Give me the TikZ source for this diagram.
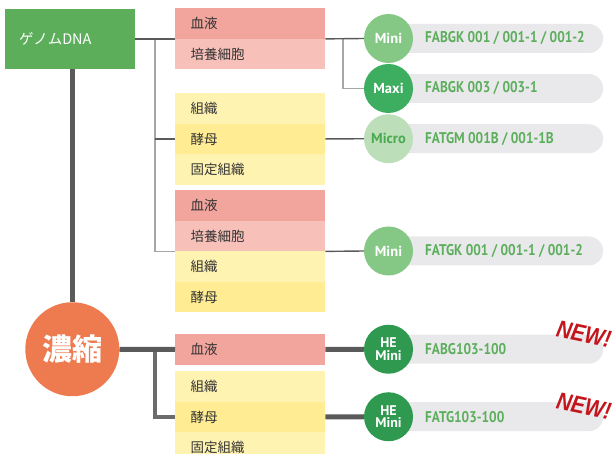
\documentclass[tikz,border=0pt]{standalone}
\usepackage{fontspec}
\setmainfont{PT Sans}
\newfontfamily\cjk{Noto Sans CJK JP}
\newfontfamily\pillfont[FakeStretch=0.86]{PT Sans}
\newfontfamily\tagfont[FakeStretch=0.86]{Liberation Sans}
\definecolor{dnagreen}{HTML}{5DAE5B}
\definecolor{minig}{HTML}{85C785}
\definecolor{maxig}{HTML}{3DAE5F}
\definecolor{microg}{HTML}{BCDFBA}
\definecolor{microt}{HTML}{4AAA50}
\definecolor{heg}{HTML}{2F9950}
\definecolor{orng}{HTML}{EE7A50}
\definecolor{rA}{HTML}{F2A59D}
\definecolor{rB}{HTML}{F7C0B9}
\definecolor{yA}{HTML}{FFF3B2}
\definecolor{yB}{HTML}{FFEC93}
\definecolor{pillg}{HTML}{E9E9EB}
\definecolor{pillt}{HTML}{5CAE5C}
\definecolor{newred}{HTML}{C3161C}
\definecolor{ldark}{HTML}{5A5A5A}
\definecolor{llight}{HTML}{A6A6A6}
\definecolor{txt}{HTML}{333333}
\begin{document}
\begin{tikzpicture}[x=1pt,y=-1pt,
  cell/.style={anchor=north west, minimum width=150pt, minimum height=30.5pt, text width=119pt, inner xsep=15.5pt, inner ysep=0pt, align=left, text=txt, font=\cjk\fontsize{13.5}{16}\selectfont},
  pillbox/.style={anchor=west, fill=pillg, rounded corners=14.5pt, minimum width=215pt, minimum height=29pt, inner sep=0pt},
  ptext/.style={anchor=west, inner sep=0pt, text=pillt, font=\pillfont\bfseries\fontsize{15.5}{18}\selectfont},
  kit/.style={circle, minimum size=49pt, inner sep=0pt, align=center, text=white, font=\bfseries\fontsize{14.5}{13}\selectfont},
  thinline/.style={draw=ldark, line width=1.4pt},
  lightline/.style={draw=llight, line width=1.4pt},
  thickline/.style={draw=ldark, line width=5pt},
  thickv/.style={draw=ldark!90!white, line width=4.5pt},
  newtag/.style={text=newred, inner sep=0pt, font=\tagfont\bfseries\itshape\fontsize{24}{26}\selectfont}
]
\clip (0,0) rectangle (614,454);
% genome DNA box
\node[anchor=north west, fill=dnagreen, minimum width=130pt, minimum height=60pt, text width=102pt, inner xsep=14pt, inner ysep=0pt, align=left, text=white, font=\cjk\fontsize{14.5}{16}\selectfont] (dna) at (5,9) {ゲノムDNA};
% concentrate circle
\node[circle, fill=orng, minimum size=94pt, inner sep=0pt, text=white, font=\cjk\bfseries\fontsize{30}{32}\selectfont] (conc) at (72.3,349.25) {濃縮};
% sample boxes
\node[cell, fill=rA] (a1) at (175,8) {血液};
\node[cell, fill=rB] (a2) at (175,38.5) {培養細胞};
\node[cell, fill=yA] (b1) at (175,93) {組織};
\node[cell, fill=yB] (b2) at (175,123.5) {酵母};
\node[cell, fill=yA] (b3) at (175,154) {固定組織};
\node[cell, fill=rA] (c1) at (175,190) {血液};
\node[cell, fill=rB] (c2) at (175,220.5) {培養細胞};
\node[cell, fill=yA] (c3) at (175,251) {組織};
\node[cell, fill=yB] (c4) at (175,281.5) {酵母};
\node[cell, fill=rA] (d1) at (175,334) {血液};
\node[cell, fill=yA] (d2) at (175,371) {組織};
\node[cell, fill=yB] (d3) at (175,401.5) {酵母};
\node[cell, fill=yA] (d4) at (175,432) {固定組織};
% pills
\node[pillbox] (p1) at (388,38.5) {};
\node[pillbox] (p2) at (388,88.5) {};
\node[pillbox] (p3) at (388,138.75) {};
\node[pillbox] (p4) at (388,251) {};
\node[pillbox] (p5) at (388,349.25) {};
\node[pillbox] (p6) at (388,416.75) {};
\node[ptext] (t1) at (425,38.5) {FABGK 001 / 001-1 / 001-2};
\node[ptext] (t2) at (425,88.5) {FABGK 003 / 003-1};
\node[ptext] (t3) at (425,138.75) {FATGM 001B / 001-1B};
\node[ptext] (t4) at (425,251) {FATGK 001 / 001-1 / 001-2};
\node[ptext] (t5) at (425,349.25) {FABG103-100};
\node[ptext] (t6) at (425,416.75) {FATG103-100};
% kit circles
\node[kit, fill=minig] (m1) at (388.5,38.5) {Mini};
\node[kit, fill=maxig] (m2) at (388.5,88.5) {Maxi};
\node[kit, fill=microg, text=microt] (m3) at (388.5,138.75) {Micro};
\node[kit, fill=minig] (m4) at (388.5,251) {Mini};
\node[kit, fill=heg, font=\bfseries\fontsize{14}{12.5}\selectfont] (h1) at (388.5,349.25) {HE\\Mini};
\node[kit, fill=heg, font=\bfseries\fontsize{14}{12.5}\selectfont] (h2) at (388.5,416.75) {HE\\Mini};
% NEW tags
\node[newtag, rotate=-12] (n1) at (584,334) {NEW!};
\node[newtag, rotate=-12] (n2) at (584,406) {NEW!};
% connectors: genome DNA
\coordinate (j1) at (155,38.5);
\coordinate (j2) at (343,38.5);
\draw[lightline] (j1) |- (c2.south west);
\draw[thinline] (dna.east |- a1.south west) -- (a1.south west);
\draw[thinline] (j1 |- b2.west) -- (b2.west);
\draw[lightline] (j2) |- (m2.west);
\draw[thinline] (a1.south east) -- (m1.west);
\draw[thinline] (b2.east) -- (m3.west);
\draw[thinline] (c2.south east) -- (m4.west);
% connectors: concentration
\draw[thickline] (dna.south -| conc.north) -- (conc.north);
\coordinate (j3) at (155,349.25);
\draw[thickv] (j3) |- (d3.west);
\draw[thickline] (conc.east) -- (d1.west);
\draw[thickline] (d1.east) -- (h1.west);
\draw[thickline] (d3.east) -- (h2.west);
\end{tikzpicture}
\end{document}
